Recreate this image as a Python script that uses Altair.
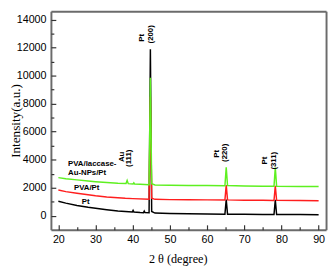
import altair as alt
import pandas as pd

# ---- data ----
pt_theta = [20, 22, 25, 28, 30, 33, 36, 38, 39.9, 40.1, 40.3, 42, 42.9, 43.1, 43.3,
            44.4, 44.75, 45.1, 46, 50, 55, 60, 64.8, 65.15, 65.5, 70, 75, 78.0, 78.35, 78.7, 85, 90]
pt_int = [1030, 900, 730, 600, 540, 430, 330, 300, 270, 380, 270, 230, 220, 330, 220,
          210, 11880, 300, 190, 160, 140, 120, 110, 1150, 110, 100, 90, 85, 1130, 90, 80, 70]

pva_theta = [20, 22, 25, 28, 30, 33, 36, 38, 40, 44.4, 44.75, 45.1, 46, 50, 55, 60,
             64.8, 65.15, 65.5, 70, 75, 78.0, 78.35, 78.7, 85, 90]
pva_int = [1830, 1720, 1600, 1490, 1420, 1340, 1280, 1240, 1220, 1180, 8500, 1250, 1170, 1150, 1140, 1130,
           1120, 2180, 1130, 1110, 1100, 1090, 2130, 1100, 1085, 1075]

lac_theta = [20, 22, 25, 28, 30, 33, 36, 38.2, 38.5, 38.8, 40.1, 40.3, 40.5, 42,
             44.4, 44.75, 45.1, 46, 50, 55, 60, 64.8, 65.15, 65.5, 70, 75, 78.0, 78.35, 78.7, 85, 90]
lac_int = [2720, 2640, 2560, 2480, 2430, 2370, 2320, 2300, 2520, 2290, 2270, 2350, 2260, 2240,
           2220, 9850, 2280, 2200, 2180, 2160, 2150, 2140, 3460, 2150, 2120, 2110, 2100, 3440, 2110, 2090, 2080]

peak_text = ["Pt", "(200)", "Au", "(111)", "Pt", "(220)", "Pt", "(311)"]
peak_x = [42.6, 44.9, 37.0, 39.1, 62.6, 64.9, 75.6, 78.0]
peak_y = [12700, 12950, 4200, 4100, 4420, 4490, 3930, 3930]

series_text = ["PVA/laccase-", "Au-NPs/Pt", "PVA/Pt", "Pt"]
series_x = [22.6, 22.6, 24.2, 26.3]
series_y = [3720, 3020, 1940, 1000]

x_major = [20, 30, 40, 50, 60, 70, 80, 90]
x_minor = [25, 35, 45, 55, 65, 75, 85]
y_major = [0, 2000, 4000, 6000, 8000, 10000, 12000, 14000]
y_minor = [1000, 3000, 5000, 7000, 9000, 11000, 13000]

X_DOMAIN = [18, 92]
Y_DOMAIN = [-1000, 14600]

df_pt = pd.DataFrame({"theta": pt_theta, "intensity": pt_int})
df_pva = pd.DataFrame({"theta": pva_theta, "intensity": pva_int})
df_lac = pd.DataFrame({"theta": lac_theta, "intensity": lac_int})
df_peak = pd.DataFrame({"theta": peak_x, "intensity": peak_y, "label": peak_text})
df_series = pd.DataFrame({"theta": series_x, "intensity": series_y, "label": series_text})

xs = alt.Scale(domain=X_DOMAIN, nice=False, zero=False)
ys = alt.Scale(domain=Y_DOMAIN, nice=False, zero=False)
AXIS_GREY = "#6b6b6b"

main_x_axis = alt.Axis(values=x_major, ticks=False, grid=False, orient="bottom",
                       domainColor=AXIS_GREY, domainWidth=2,
                       labelFont="Liberation Sans", labelFontSize=11, labelColor="black",
                       labelPadding=4, format="d",
                       title="2 θ (degree)", titleFont="Liberation Serif", titleFontSize=12.5,
                       titleFontWeight="normal", titleColor="black",
                       titleX=130, titleY=30, titleBaseline="middle")
main_y_axis = alt.Axis(values=y_major, ticks=False, grid=False, orient="left",
                       domainColor=AXIS_GREY, domainWidth=2,
                       labelFont="Liberation Sans", labelFontSize=11, labelColor="black",
                       labelPadding=5, format="d",
                       title="Intensity(a.u.)", titleFont="Liberation Serif", titleFontSize=13.5,
                       titleFontWeight="normal", titleColor="black",
                       titleX=-36, titleY=112, titleBaseline="middle")


def enc(chart, xaxis=None, yaxis=None):
    return chart.encode(
        x=alt.X("theta:Q", scale=xs, axis=xaxis),
        y=alt.Y("intensity:Q", scale=ys, axis=yaxis),
    )


line_pt = enc(alt.Chart(df_pt).mark_line(color="black", strokeWidth=1.5), main_x_axis, main_y_axis)
line_pva = enc(alt.Chart(df_pva).mark_line(color="#ff1e1e", strokeWidth=1.5))
line_lac = enc(alt.Chart(df_lac).mark_line(color="#5ef020", strokeWidth=1.5))

peak_labels = enc(alt.Chart(df_peak).mark_text(angle=270, align="center", baseline="middle",
                                               font="Liberation Sans", fontWeight="bold",
                                               fontSize=8, color="black")).encode(text="label:N")
series_labels = enc(alt.Chart(df_series).mark_text(align="left", baseline="middle",
                                                   font="Liberation Sans", fontWeight="bold",
                                                   fontSize=8, color="black")).encode(text="label:N")


def tick_layer(xv, yv, size):
    return alt.Chart(df_pt).mark_point(opacity=0).encode(
        x=alt.X("theta:Q", scale=xs,
                axis=alt.Axis(values=xv, labels=False, domain=False, ticks=True, tickSize=size,
                              offset=-size, tickColor="#333333", tickWidth=1.2, grid=False,
                              title=None, orient="bottom")),
        y=alt.Y("intensity:Q", scale=ys,
                axis=alt.Axis(values=yv, labels=False, domain=False, ticks=True, tickSize=size,
                              offset=-size, tickColor="#333333", tickWidth=1.2, grid=False,
                              title=None, orient="left")),
    )


frame = alt.Chart(df_pt).mark_point(opacity=0).encode(
    x=alt.X("theta:Q", scale=xs,
            axis=alt.Axis(values=x_major, labels=False, ticks=False, domain=True,
                          domainColor=AXIS_GREY, domainWidth=2, grid=False,
                          title=None, orient="top")),
    y=alt.Y("intensity:Q", scale=ys,
            axis=alt.Axis(values=y_major, labels=False, ticks=False, domain=True,
                          domainColor=AXIS_GREY, domainWidth=2, grid=False,
                          title=None, orient="right")),
)

chart = alt.layer(
    line_pt, line_pva, line_lac, peak_labels, series_labels,
    tick_layer(x_major, y_major, 5), tick_layer(x_minor, y_minor, 3), frame,
).resolve_scale(
    x="independent", y="independent"
).properties(
    width=282, height=224,
    autosize=alt.AutoSizeParams(type="none"),
    padding={"left": 44, "top": 0, "right": 2, "bottom": 38},
).configure_view(stroke=None).configure_axis(grid=False)

chart.save("out.html", embed_options={"renderer": "svg", "actions": False})
